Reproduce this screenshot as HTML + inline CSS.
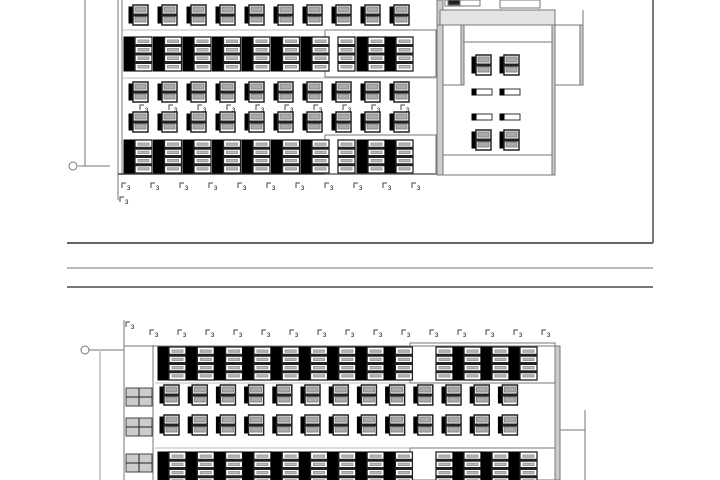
<!DOCTYPE html>
<html><head><meta charset="utf-8"><style>
html,body{margin:0;padding:0;background:#fff;width:720px;height:480px;overflow:hidden}
svg{display:block}
</style></head><body>
<svg id="s" width="720" height="480" viewBox="0 0 720 480" xmlns="http://www.w3.org/2000/svg" font-family="Liberation Sans, sans-serif">
<g stroke="#777" fill="none" stroke-width="1">
<line x1="653" y1="0" x2="653" y2="243" stroke-width="2"/>
<line x1="67" y1="243" x2="653" y2="243" stroke-width="2" stroke="#666"/>
<line x1="67" y1="268" x2="653" y2="268"/>
<line x1="67" y1="287" x2="653" y2="287" stroke-width="2"/>
<line x1="85" y1="0" x2="85" y2="166"/>
<line x1="78" y1="166" x2="110" y2="166"/>
<circle cx="73" cy="166" r="4"/>
<line x1="118" y1="0" x2="118" y2="200"/>
<line x1="122" y1="0" x2="122" y2="175"/>
<line x1="118" y1="174" x2="437" y2="174" stroke="#444" stroke-width="1.5"/>
<rect x="437" y="0" width="6" height="175" fill="#ccc"/>
<rect x="437" y="25" width="118" height="150"/>
<line x1="463" y1="25" x2="463" y2="85"/>
<rect x="461" y="25" width="3" height="60" fill="#ccc"/>
<line x1="443" y1="85" x2="463" y2="85"/>
<line x1="463" y1="42" x2="555" y2="42"/>
<line x1="443" y1="155" x2="555" y2="155"/>
<rect x="552" y="25" width="3" height="150" fill="#ccc"/>
<rect x="440" y="10" width="115" height="15" fill="#e4e4e4"/>
<rect x="445" y="0" width="35" height="6"/>
<rect x="448" y="0" width="12" height="5" fill="#222"/>
<rect x="500" y="0" width="40" height="8"/>
<rect x="555" y="25" width="27" height="60"/>
<rect x="580" y="25" width="3" height="60" fill="#ccc"/>
<line x1="583" y1="25" x2="583" y2="10"/>
<rect x="325" y="30" width="111" height="47"/>
<rect x="325" y="135" width="111" height="39"/>
<line x1="122" y1="78" x2="437" y2="78" stroke="#bbb"/>
<line x1="122" y1="30" x2="325" y2="30" stroke="#bbb"/>
<circle cx="85" cy="350" r="4"/>
<line x1="89" y1="350" x2="124" y2="350"/>
<line x1="100" y1="350" x2="100" y2="480" stroke="#ccc" stroke-width="2"/>
<line x1="124" y1="320" x2="124" y2="480"/>
<line x1="153" y1="345" x2="153" y2="480"/>
<line x1="124" y1="346" x2="555" y2="346"/>
<rect x="410" y="343" width="145" height="40"/>
<rect x="410" y="448" width="145" height="32"/>
<line x1="155" y1="383" x2="410" y2="383" stroke="#bbb"/>
<line x1="155" y1="448" x2="410" y2="448" stroke="#bbb"/>
<rect x="555" y="346" width="5" height="134" fill="#ccc"/>
<line x1="560" y1="430" x2="585" y2="430"/>
<line x1="585" y1="410" x2="585" y2="480"/>
</g>
<g id="g"></g>
</svg>
<script>
var g=document.getElementById('g'),h='';
function r(x,y,w,ht,f,s,sw){h+='<rect x="'+x+'" y="'+y+'" width="'+w+'" height="'+ht+'" fill="'+(f||'none')+'" stroke="'+(s||'#333')+'" stroke-width="'+(sw||1)+'"/>';}
function big(x,y,H,black){if(black)r(x,y,11,H,'#000','#000');var bx=x+11;r(bx,y,17,H,'#fff','#222',1.3);for(var k=1;k<4;k++)r(bx,y+k*H/4-1,17,2,'#222','#222');for(var k=0;k<4;k++)r(bx+3,y+k*H/4+3,11,H/4-6,'#bbb','#999');}
function small(x,y){r(x,y+2,4,16,'#000','#000');r(x+4,y,15,20,'#fff','#222',1.5);r(x+4,y+9,15,2,'#222','#222');r(x+6,y+2,11,5,'#aaa','#888');r(x+6,y+12,11,5,'#aaa','#888');}
function tick(x,y){h+='<path d="M'+x+' '+y+'v-5h4" stroke="#444" fill="none"/><text x="'+(x+5)+'" y="'+(y+2)+'" font-size="6">3</text>';}
for(var i=0;i<10;i++){var x=129+i*29;small(x,5);small(x,82);small(x,112);}
for(var i=0;i<7;i++){big(124+i*29.5,37,34,1);big(124+i*29.5,140,33,1);}
big(327,37,34,0);big(327,140,33,0);big(357,37,34,1);big(357,140,33,1);big(385,37,34,1);big(385,140,33,1);
for(var i=0;i<11;i++)tick(122+i*29,188);
tick(120,202);
for(var i=0;i<10;i++)tick(140+i*29,110);
[[472,60],[500,60],[472,135],[500,135]].forEach(function(p){small(p[0],p[1]-5);});
[[472,92],[500,92],[472,117],[500,117]].forEach(function(p){r(p[0],p[1]-3,20,6,'#fff','#333');r(p[0],p[1]-3,4,6,'#000','#000');});
for(var i=0;i<9;i++){big(158+i*28.3,347,33,1);big(158+i*28.3,452,33,1);}
big(425,347,33,0);big(453,347,33,1);big(481,347,33,1);big(509,347,33,1);
big(425,452,33,0);big(453,452,33,1);big(481,452,33,1);big(509,452,33,1);
for(var i=0;i<13;i++){var x=160+i*28.2;small(x,385);small(x,415);}
[388,418,454].forEach(function(y){r(126,y,26,18,'#ccc','#444');h+='<line x1="139" y1="'+y+'" x2="139" y2="'+(y+18)+'" stroke="#222"/><line x1="126" y1="'+(y+9)+'" x2="152" y2="'+(y+9)+'" stroke="#222"/>';});
for(var i=0;i<15;i++)tick(150+i*28,335);
tick(126,327);
g.innerHTML=h;
</script>
</body></html>
